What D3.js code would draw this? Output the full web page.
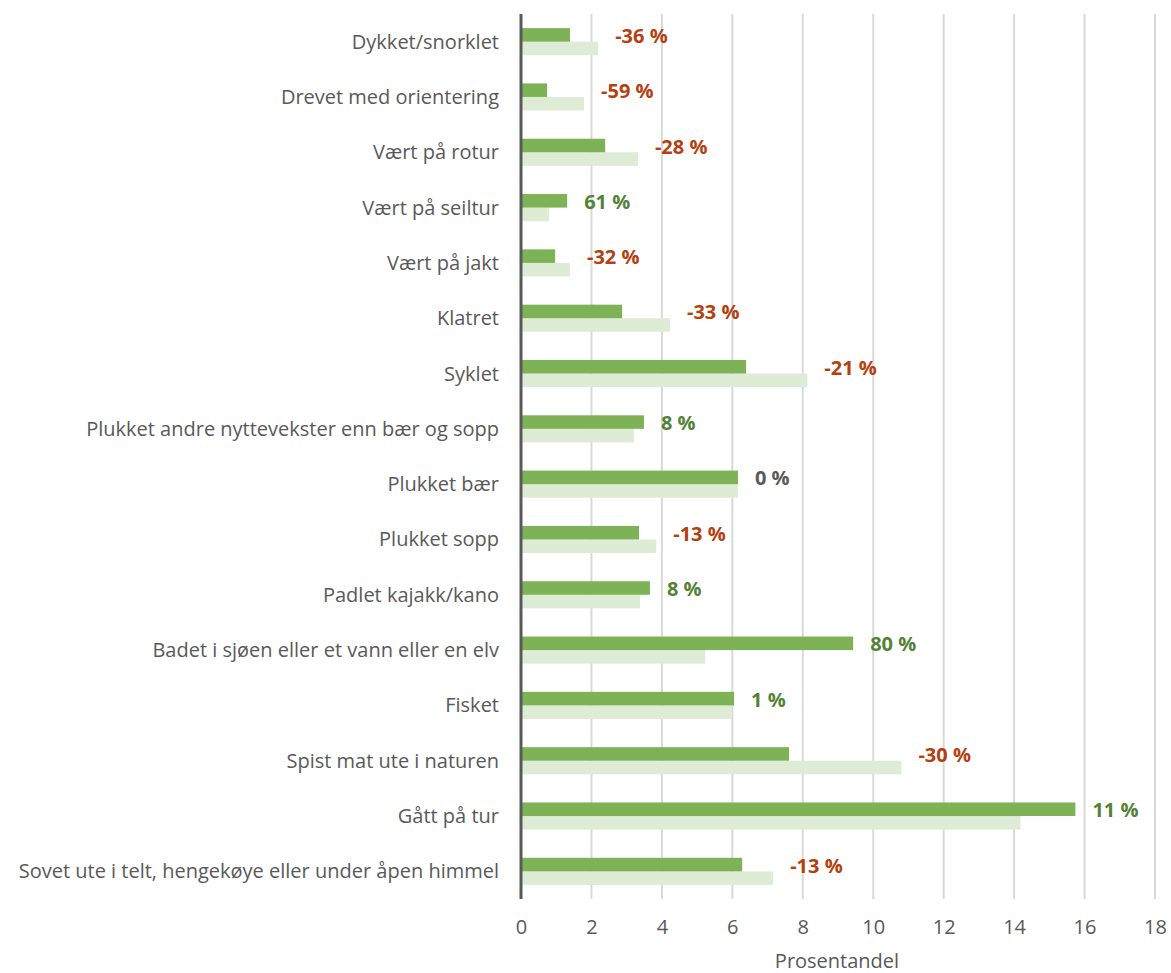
<!DOCTYPE html>
<html>
<head>
<meta charset="utf-8">
<script src="https://cdn.jsdelivr.net/npm/d3@7"></script>
<style>
  body { margin: 0; background: #fff; }
  svg { font-family: "Open Sans", "Noto Sans", sans-serif; }
</style>
</head>
<body>
<div id="chart"></div>
<script>
// Categories (top to bottom)
var categories = ['Dykket/snorklet', 'Drevet med orientering', 'Vært på rotur', 'Vært på seiltur',
  'Vært på jakt', 'Klatret', 'Syklet', 'Plukket andre nyttevekster enn bær og sopp', 'Plukket bær',
  'Plukket sopp', 'Padlet kajakk/kano', 'Badet i sjøen eller et vann eller en elv', 'Fisket',
  'Spist mat ute i naturen', 'Gått på tur', 'Sovet ute i telt, hengekøye eller under åpen himmel'];

// Current year share (dark green)
var current = [1.39, 0.74, 2.39, 1.31, 0.97, 2.87, 6.39, 3.49, 6.16, 3.35, 3.66, 9.43, 6.05, 7.61, 15.74, 6.28];

// Previous year share (light green)
var previous = [2.19, 1.79, 3.32, 0.80, 1.39, 4.23, 8.13, 3.21, 6.16, 3.84, 3.38, 5.23, 5.99, 10.80, 14.18, 7.16];

// Change labels
var changes = [-36, -59, -28, 61, -32, -33, -21, 8, 0, -13, 8, 80, 1, -30, 11, -13];

var xTicks = [0, 2, 4, 6, 8, 10, 12, 14, 16, 18];

var margin = {top: 14, right: 16, bottom: 74, left: 521},
    width = 1171 - margin.left - margin.right,
    height = 973 - margin.top - margin.bottom;

var svg = d3.select('#chart').append('svg')
    .attr('width', 1171)
    .attr('height', 973)
  .append('g')
    .attr('transform', 'translate(' + margin.left + ',' + margin.top + ')');

var x = d3.scaleLinear().domain([0, 18]).range([0, width]);
var y = d3.scaleBand().domain(categories).range([0, height]).paddingInner(0.51).paddingOuter(0.255);
var ySub = d3.scaleBand().domain(['cur', 'prev']).range([0, y.bandwidth()]);

// gridlines
svg.selectAll('.grid')
    .data(xTicks.slice(1))
  .enter().append('line')
    .attr('x1', function(d) { return x(d); })
    .attr('x2', function(d) { return x(d); })
    .attr('y1', 0)
    .attr('y2', height)
    .attr('stroke', '#d9d9d9')
    .attr('stroke-width', 2);

var rows = categories.map(function(c, i) {
  return {cat: c, cur: current[i], prev: previous[i], chg: changes[i]};
});

// previous bars
svg.selectAll('.prev')
    .data(rows)
  .enter().append('rect')
    .attr('x', 0)
    .attr('y', function(d) { return y(d.cat) + ySub('prev'); })
    .attr('width', function(d) { return x(d.prev); })
    .attr('height', ySub.bandwidth())
    .attr('fill', '#deebd5');

// current bars
svg.selectAll('.cur')
    .data(rows)
  .enter().append('rect')
    .attr('x', 0)
    .attr('y', function(d) { return y(d.cat) + ySub('cur'); })
    .attr('width', function(d) { return x(d.cur); })
    .attr('height', ySub.bandwidth())
    .attr('fill', '#7db356');

// change labels
svg.selectAll('.chg')
    .data(rows)
  .enter().append('text')
    .attr('x', function(d) { return x(Math.max(d.cur, d.prev)) + 17; })
    .attr('y', function(d) { return y(d.cat) + ySub('cur') + ySub.bandwidth() / 2 + 1; })
    .attr('dy', '0.35em')
    .style('font-size', '20px')
    .style('font-weight', 'bold')
    .attr('fill', function(d) { return d.chg < 0 ? '#b5400f' : (d.chg > 0 ? '#548235' : '#595959'); })
    .text(function(d) { return d.chg + ' %'; });

// category labels
svg.selectAll('.cat')
    .data(categories)
  .enter().append('text')
    .attr('x', -22)
    .attr('y', function(d) { return y(d) + y.bandwidth() / 2; })
    .attr('dy', '0.35em')
    .attr('text-anchor', 'end')
    .style('font-size', '20px')
    .attr('fill', '#595959')
    .text(function(d) { return d; });

// x axis tick labels
var xAxis = svg.append('g')
    .attr('transform', 'translate(0,' + height + ')')
    .call(d3.axisBottom(x).tickValues(xTicks).tickSize(0).tickPadding(21));
xAxis.select('.domain').remove();
xAxis.selectAll('text')
    .style('font-size', '20px')
    .style('font-family', '"Open Sans", "Noto Sans", sans-serif')
    .attr('fill', '#595959');

// y axis line
svg.append('line')
    .attr('x1', 0).attr('x2', 0)
    .attr('y1', 0).attr('y2', height)
    .attr('stroke', '#595959')
    .attr('stroke-width', 3);

// x axis title
svg.append('text')
    .attr('x', width / 2 - 1)
    .attr('y', height + 69)
    .attr('text-anchor', 'middle')
    .style('font-size', '20px')
    .attr('fill', '#595959')
    .text('Prosentandel');
</script>
</body>
</html>
